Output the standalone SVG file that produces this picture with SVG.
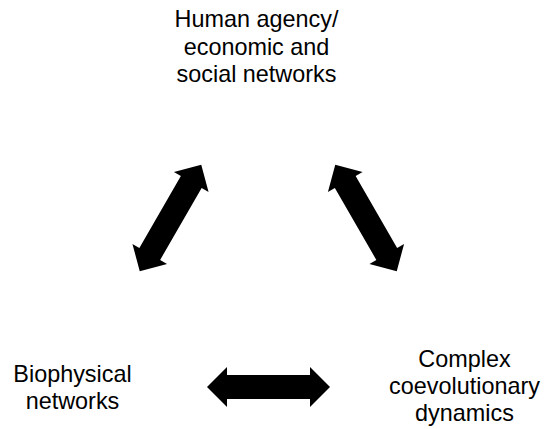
<svg xmlns="http://www.w3.org/2000/svg" xmlns:xlink="http://www.w3.org/1999/xlink" width="546" height="429" viewBox="0 0 546 429">
  <style>
    .lbl { font-family: "Liberation Sans", Arial, sans-serif; font-size: 23.4px; fill: #000; text-anchor: middle; }
    .arr { fill: #000; stroke: none; }
  </style>
  <defs>
    <path id="dblArrow" class="arr" d="M -61.5 0 L -41.5 -20 L -41.5 -12 L 41.5 -12 L 41.5 -20 L 61.5 0 L 41.5 20 L 41.5 12 L -41.5 12 L -41.5 20 Z"/>
  </defs>
  <rect width="546" height="429" fill="#fff"/>
  <g id="connectors">
    <use id="arrow-human-bio" xlink:href="#dblArrow" href="#dblArrow" transform="translate(170.5 218) rotate(-60)"/>
    <use id="arrow-human-complex" xlink:href="#dblArrow" href="#dblArrow" transform="translate(366 218) rotate(60)"/>
    <use id="arrow-bio-complex" xlink:href="#dblArrow" href="#dblArrow" transform="translate(268.5 387)"/>
  </g>
  <g id="node-human">
    <text class="lbl" x="256.5" y="27">Human agency/</text>
    <text class="lbl" x="256.5" y="54.5">economic and</text>
    <text class="lbl" x="256.5" y="82">social networks</text>
  </g>
  <g id="node-bio">
    <text class="lbl" x="72.5" y="382">Biophysical</text>
    <text class="lbl" x="72.5" y="409">networks</text>
  </g>
  <g id="node-complex">
    <text class="lbl" x="464.5" y="367">Complex</text>
    <text class="lbl" x="464.5" y="394">coevolutionary</text>
    <text class="lbl" x="464.5" y="421">dynamics</text>
  </g>
</svg>
